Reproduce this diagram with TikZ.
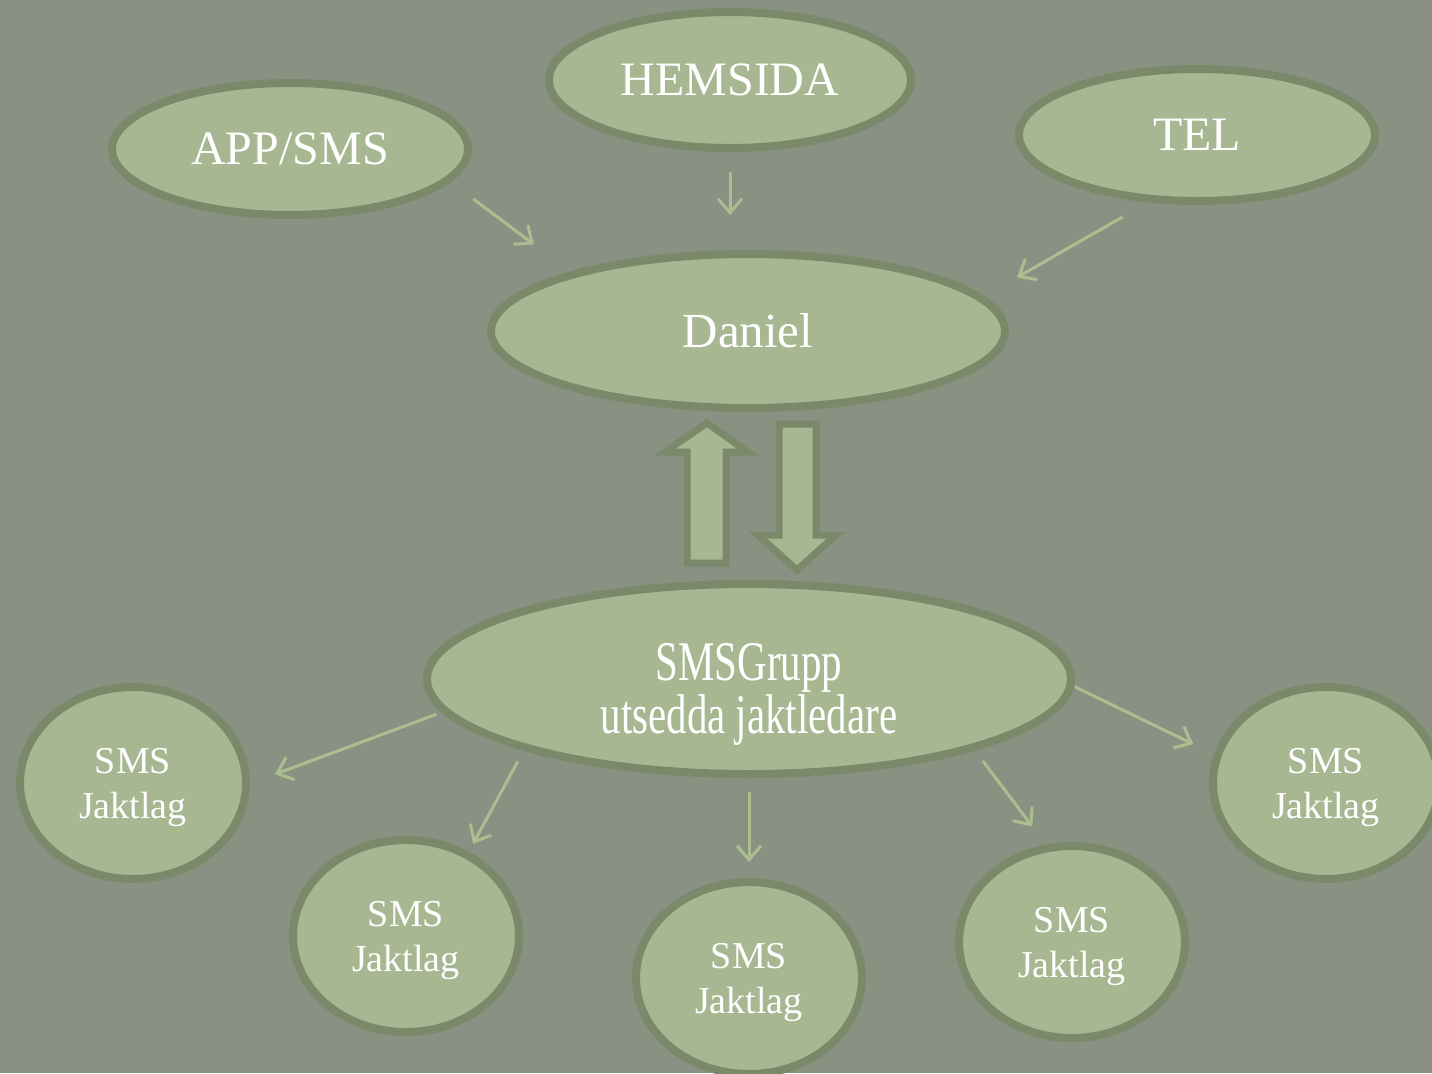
\documentclass[tikz,border=0pt]{standalone}
\usepackage{fontspec}
\setmainfont{Liberation Serif}
\newfontfamily\narrowserif[FakeStretch=0.73]{Liberation Serif}
\usepackage{tikz}
\usetikzlibrary{arrows.meta,shapes.geometric,calc}
\definecolor{slate}{RGB}{138,145,130}
\definecolor{leaf}{RGB}{167,183,145}
\definecolor{rim}{RGB}{121,137,106}
\definecolor{twig}{RGB}{170,190,144}
\tikzset{
    >={Straight Barb[length=7pt,width=12pt]},
    bubble/.style={
        ellipse,
        draw=rim, fill=leaf,
        line width=4pt,
        inner sep=0pt, outer sep=0pt,
        text=white,
        align=center
    },
    source/.style={
        bubble,
        minimum width=178pt,
        minimum height=66pt,
        font={\fontsize{24pt}{28pt}\selectfont}
    },
    hub/.style={
        bubble,
        font={\narrowserif\fontsize{28pt}{25pt}\selectfont}
    },
    jaktlag/.style={
        bubble,
        minimum width=113pt,
        minimum height=96pt,
        font={\fontsize{19pt}{22.5pt}\selectfont}
    },
    link/.style={draw=twig, line width=1.5pt, ->},
    fatarrow/.style={draw=rim, fill=leaf, line width=3.5pt, line join=miter},
}
\newcommand{\smsjakt}{\rule{0pt}{16.6pt}SMS\\Jaktlag}

\begin{document}
\begin{tikzpicture}[x=0.5pt,y=-0.5pt]
\useasboundingbox (0,0) rectangle (1432,1073);
\clip (0,0) rectangle (1432,1073);
\fill[slate] (0,0) rectangle (1432,1073);

\node[source] (app) at (290,149) {APP/SMS};
\node[source, minimum width=181pt, minimum height=68pt] (hem) at (730,80) {HEMSIDA};
\node[source] (tel) at (1197,135) {TEL};
\node[hub, minimum width=257pt, minimum height=77pt,
    font={\fontsize{24.5pt}{28pt}\selectfont}] (daniel) at (748,331) {Daniel};
\node[hub, minimum width=322pt, minimum height=95pt] (grupp) at (749,679)
    {\rule{0pt}{34pt}SMSGrupp\\utsedda jaktledare};

\node[jaktlag] (j1) at (133,783) {\smsjakt};
\node[jaktlag] (j2) at (406,936) {\smsjakt};
\node[jaktlag] (j3) at (749,978) {\smsjakt};
\node[jaktlag] (j4) at (1072,942) {\smsjakt};
\node[jaktlag] (j5) at (1326,783) {\smsjakt};

\draw[link, shorten <=16pt, shorten >=25pt] (app.-11) -- (daniel.162);
\draw[link, shorten <=12pt, shorten >=19.5pt] (hem.south) -- (hem.south |- daniel.north);
\draw[link, shorten <=18pt, shorten >=21pt] (tel.-124.5) -- (daniel.8);

\draw[link, shorten <=5pt, shorten >=15.5pt] (grupp.186.7) -- (j1.-1);
\draw[link, shorten <=8pt, shorten >=6.5pt] (grupp.197.3) -- (j2.53.4);
\draw[link, shorten <=9pt, shorten >=10pt] (grupp.south) -- (j3.north);
\draw[link, shorten <=8.5pt, shorten >=13.5pt] (grupp.-17.8) -- (j4.104.9);
\draw[link, shorten <=2.5pt, shorten >=13.5pt] (grupp.-1) -- (j5.166.3);

% up and down between Daniel and the group
\draw[fatarrow] (707,423) -- (748,452) -- (726,452) -- (726,563)
    -- (687,563) -- (687,452) -- (665,452) -- cycle;
\draw[fatarrow] (779,424) -- (816,424) -- (816,535) -- (836,535)
    -- (797,570) -- (758,535) -- (779,535) -- cycle;
\end{tikzpicture}
\end{document}
